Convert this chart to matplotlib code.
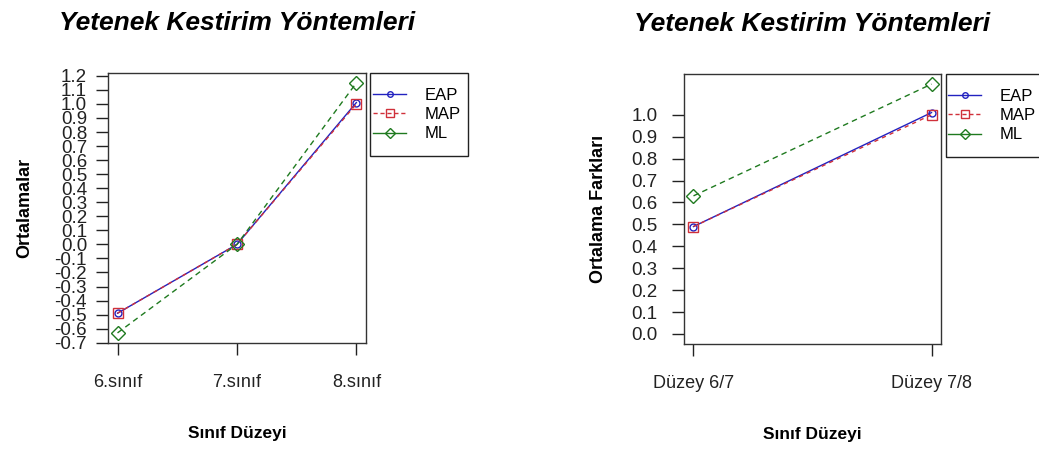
import matplotlib.pyplot as plt
from matplotlib.lines import Line2D
from matplotlib.patches import Rectangle

plt.rcParams["font.family"] = ["Liberation Sans", "DejaVu Sans"]

# left panel: means per grade
grades = ["6.sınıf", "7.sınıf", "8.sınıf"]
eap_mean = [-0.49, 0.00, 1.01]
map_mean = [-0.49, 0.00, 1.00]
ml_mean = [-0.63, 0.00, 1.15]
left_ticks = [-0.7, -0.6, -0.5, -0.4, -0.3, -0.2, -0.1, 0.0, 0.1, 0.2,
              0.3, 0.4, 0.5, 0.6, 0.7, 0.8, 0.9, 1.0, 1.1, 1.2]

# right panel: mean differences between levels
levels = ["Düzey 6/7", "Düzey 7/8"]
eap_diff = [0.49, 1.01]
map_diff = [0.49, 1.00]
ml_diff = [0.63, 1.14]
right_ticks = [0.0, 0.1, 0.2, 0.3, 0.4, 0.5, 0.6, 0.7, 0.8, 0.9, 1.0]

methods = ["EAP", "MAP", "ML"]
blue = "#2222c0"
red = "#d0303a"
green = "#1f7a1f"

fig = plt.figure(figsize=(10.39, 4.53), dpi=100)
ax1 = fig.add_axes([0.1039, 0.2428, 0.2483, 0.596])
ax2 = fig.add_axes([0.6583, 0.2406, 0.2474, 0.596])


def draw(ax, labels, e, m, l, ylim, yticks, ylabel, ypad, box_w):
    x = list(range(1, len(labels) + 1))
    ax.plot(x, e, color=blue, lw=1, marker="o", ms=5, mfc="none", mec=blue, mew=1)
    ax.plot(x, m, color=red, lw=1, ls=(0, (3, 3)), marker="s", ms=7, mfc="none", mec=red, mew=1)
    ax.plot(x, l, color=green, lw=1, ls=(0, (4, 3)), marker="D", ms=7.5, mfc="none", mec=green, mew=1)
    span = x[-1] - x[0]
    ax.set_xlim(x[0] - 0.04 * span, x[-1] + 0.04 * span)
    ax.set_ylim(*ylim)
    ax.set_xticks(x)
    ax.set_xticklabels(labels, fontsize=13)
    ax.set_yticks(yticks)
    ax.set_yticklabels([f"{t:.1f}" for t in yticks], fontsize=13.5)
    ax.tick_params(axis="x", length=8.5, width=1, pad=14, colors="#222222")
    ax.tick_params(axis="y", length=9, width=1, pad=ypad, colors="#222222")
    for s in ax.spines.values():
        s.set_linewidth(1)
        s.set_color("#333333")
    ax.set_title("Yetenek Kestirim Yöntemleri", fontsize=19, fontweight="bold",
                 fontstyle="italic", pad=31)
    ax.set_xlabel("Sınıf Düzeyi", fontsize=12.5, fontweight="bold", labelpad=25)
    ax.set_ylabel(ylabel, fontsize=13, fontweight="bold")

    # legend outside the plot, with a square box drawn by hand
    w_px = ax.bbox.width
    h_px = ax.bbox.height
    ax.add_patch(Rectangle((1 + 4.5 / w_px, 1 - 83 / h_px), box_w / w_px, 83 / h_px,
                           transform=ax.transAxes, fill=False, lw=1,
                           ec="#222222", clip_on=False))
    handles = [
        Line2D([], [], color=blue, lw=1, marker="o", ms=4, mfc="none"),
        Line2D([], [], color=red, lw=1, ls=(0, (3, 2)), marker="s", ms=5.5, mfc="none"),
        Line2D([], [], color=green, lw=1, marker="D", ms=5.5, mfc="none"),
    ]
    ax.legend(handles, methods, loc="upper left",
              bbox_to_anchor=(1 + 7 / w_px, 1 - 15 / h_px),
              fontsize=12, frameon=False, borderaxespad=0, borderpad=0,
              handlelength=2.0, labelspacing=0.25, handletextpad=1.1)


draw(ax1, grades, eap_mean, map_mean, ml_mean, (-0.702, 1.22), left_ticks,
     "Ortalamalar", 6, 98)
draw(ax2, levels, eap_diff, map_diff, ml_diff, (-0.046, 1.186), right_ticks,
     "Ortalama Farkları", 10, 100)
ax1.yaxis.set_label_coords(-0.29, 0.5)
ax2.yaxis.set_label_coords(-0.30, 0.5)

fig.savefig("out.png", dpi=100)
